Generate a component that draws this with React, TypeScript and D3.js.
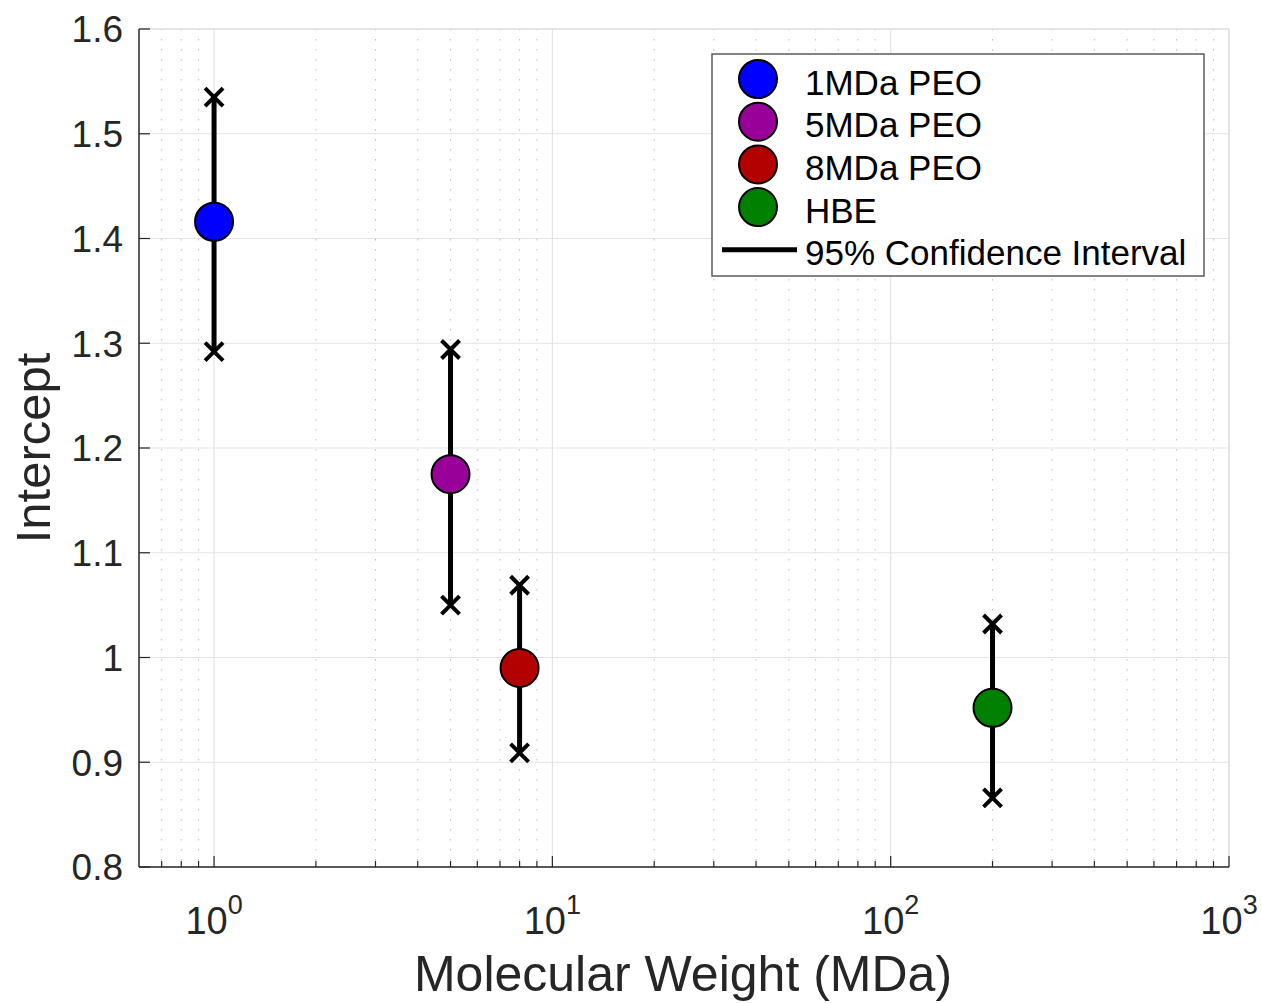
import React from 'react';
import * as d3 from 'd3';

// chart values
const seriesNames = ['1MDa PEO', '5MDa PEO', '8MDa PEO', 'HBE'];
const molWeights = [1, 5, 8, 200];
const intercepts = [1.416, 1.175, 0.99, 0.952];
const ciLow = [1.292, 1.05, 0.909, 0.866];
const ciHigh = [1.535, 1.294, 1.069, 1.032];
const seriesColors = ['#0000ff', '#990099', '#b30000', '#008000'];
const yTicks = [0.8, 0.9, 1, 1.1, 1.2, 1.3, 1.4, 1.5, 1.6];
const xDomain = [0.6, 1000];
const yDomain = [0.8, 1.6];
const ciLabel = '95% Confidence Interval';

const W = 1262;
const H = 1003;
const margin = { top: 29, right: 33, bottom: 136, left: 139 };
const FONT = '"Liberation Sans", Arial, Helvetica, sans-serif';
const TEXT = '#262626';

const App = () => {
    const left = margin.left;
    const right = W - margin.right;
    const top = margin.top;
    const bottom = H - margin.bottom;

    const x = d3.scaleLog().domain(xDomain).range([left, right]);
    const y = d3.scaleLinear().domain(yDomain).range([bottom, top]);

    const allTicks = x.ticks();
    const isMajor = (v: number) => Math.abs(Math.log10(v) - Math.round(Math.log10(v))) < 1e-9;
    const majorX = allTicks.filter(isMajor);
    const minorX = allTicks.filter(v => !isMajor(v) && x(v) > left + 1);

    const cross = (cx: number, cy: number, s: number) =>
        `M${cx - s},${cy - s}L${cx + s},${cy + s}M${cx - s},${cy + s}L${cx + s},${cy - s}`;

    // legend box
    const lg = { x: 712, y: 54, w: 492, h: 222 };
    const rowH = 42.7;

    return (
        <svg width={W} height={H} style={{ position: 'absolute', left: 0, top: 0, background: '#fff' }}
            fontFamily={FONT}>
            <rect x={0} y={0} width={W} height={H} fill="#fff" />

            {/* minor grid */}
            {minorX.map(v => (
                <line key={'mg' + v} x1={x(v)} x2={x(v)} y1={top} y2={bottom}
                    stroke="#bdbdbd" strokeWidth={1} strokeDasharray="1.5,8.5" />
            ))}
            {/* major grid */}
            {majorX.map(v => (
                <line key={'gx' + v} x1={x(v)} x2={x(v)} y1={top} y2={bottom} stroke="#e3e3e3" strokeWidth={1.2} />
            ))}
            {yTicks.map(v => (
                <line key={'gy' + v} x1={left} x2={right} y1={y(v)} y2={y(v)} stroke="#e3e3e3" strokeWidth={1.2} />
            ))}

            {/* top / right box */}
            <line x1={left} x2={right} y1={top} y2={top} stroke="#e0e0e0" strokeWidth={1.5} />
            <line x1={right} x2={right} y1={top} y2={bottom} stroke="#e0e0e0" strokeWidth={1.5} />

            {/* axes */}
            <line x1={left} x2={right} y1={bottom} y2={bottom} stroke={TEXT} strokeWidth={1.5} />
            <line x1={left} x2={left} y1={top} y2={bottom} stroke={TEXT} strokeWidth={1.5} />
            {minorX.map(v => (
                <line key={'mt' + v} x1={x(v)} x2={x(v)} y1={bottom} y2={bottom - 6} stroke={TEXT} strokeWidth={1.2} />
            ))}
            {majorX.map(v => (
                <line key={'xt' + v} x1={x(v)} x2={x(v)} y1={bottom} y2={bottom - 11} stroke={TEXT} strokeWidth={1.2} />
            ))}
            {yTicks.map(v => (
                <line key={'yt' + v} x1={left} x2={left + 11} y1={y(v)} y2={y(v)} stroke={TEXT} strokeWidth={1.2} />
            ))}

            {/* tick labels */}
            {yTicks.map(v => (
                <text key={'yl' + v} x={left - 16} y={y(v)} dy="0.36em" textAnchor="end" fontSize={37} fill={TEXT}>
                    {d3.format('~g')(v)}
                </text>
            ))}
            {majorX.map(v => (
                <text key={'xl' + v} x={x(v)} y={bottom + 67} textAnchor="middle" fill={TEXT}>
                    <tspan fontSize={38}>10</tspan>
                    <tspan fontSize={27} dy={-20}>{Math.round(Math.log10(v))}</tspan>
                </text>
            ))}

            {/* axis labels */}
            <text x={(left + right) / 2 - 1} y={H - 12} textAnchor="middle" fontSize={50} fill={TEXT}>
                Molecular Weight (MDa)
            </text>
            <text transform={`translate(50,${(top + bottom) / 2}) rotate(-90)`} textAnchor="middle" fontSize={49} fill={TEXT}>
                Intercept
            </text>

            {/* error bars and points */}
            {molWeights.map((m, i) => (
                <g key={'s' + i}>
                    <line x1={x(m)} x2={x(m)} y1={y(ciLow[i])} y2={y(ciHigh[i])} stroke="#000" strokeWidth={5} />
                    <path d={cross(x(m), y(ciLow[i]), 9)} stroke="#000" strokeWidth={4} fill="none" />
                    <path d={cross(x(m), y(ciHigh[i]), 9)} stroke="#000" strokeWidth={4} fill="none" />
                    <circle cx={x(m)} cy={y(intercepts[i])} r={19} fill={seriesColors[i]} stroke="#000" strokeWidth={2} />
                </g>
            ))}

            {/* legend */}
            <rect x={lg.x} y={lg.y} width={lg.w} height={lg.h} fill="#fff" stroke="#5c5c5c" strokeWidth={1.5} />
            {seriesNames.map((name, i) => (
                <g key={'lg' + i}>
                    <circle cx={lg.x + 46} cy={lg.y + 25 + i * rowH} r={19} fill={seriesColors[i]} stroke="#000" strokeWidth={2} />
                    <text x={lg.x + 93} y={lg.y + 28 + i * rowH} dy="0.36em" fontSize={35} fill="#000">{name}</text>
                </g>
            ))}
            <line x1={lg.x + 10} x2={lg.x + 85} y1={lg.y + 25 + 4 * rowH} y2={lg.y + 25 + 4 * rowH} stroke="#000" strokeWidth={5} />
            <text x={lg.x + 93} y={lg.y + 28 + 4 * rowH} dy="0.36em" fontSize={35} fill="#000">{ciLabel}</text>
        </svg>
    );
};

export default App;
